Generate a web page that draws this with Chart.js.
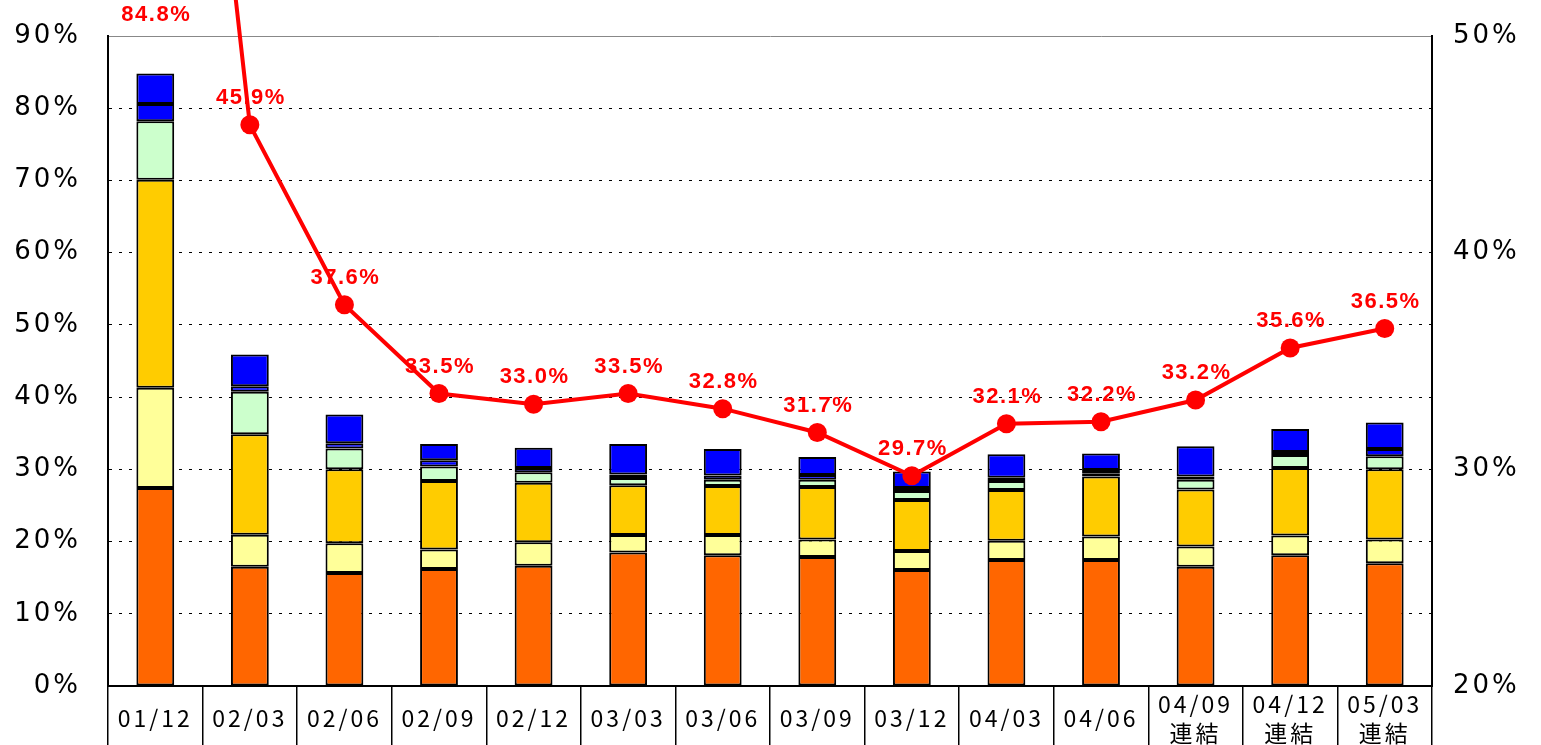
<!DOCTYPE html>
<html>
<head>
<meta charset="utf-8">
<script src="https://cdn.jsdelivr.net/npm/chart.js@4.4.1/dist/chart.umd.min.js"></script>
<style>
html,body{margin:0;padding:0;background:#fff;overflow:hidden}
#wrap{width:1541px;height:745px;position:relative}
</style>
</head>
<body>
<div id="wrap"><canvas id="c" width="1541" height="745"></canvas></div>
<script>
// ---- data ----
const categories = ['01/12','02/03','02/06','02/09','02/12','03/03','03/06','03/09','03/12','04/03','04/06',['04/09','連結'],['04/12','連結'],['05/03','連結']];
const seriesOrange = [27.4,16.5,15.65,16.2,16.65,18.5,18.1,17.85,16.05,17.45,17.45,16.5,18.1,17.0];
const seriesYellow = [13.9,4.45,4.1,2.7,3.25,2.4,2.8,2.45,2.65,2.65,3.25,2.8,2.75,3.3];
const seriesGold   = [28.8,13.9,10.25,9.5,8.25,6.9,6.8,7.25,7.05,7.05,8.3,7.9,9.35,9.7];
const seriesGreen  = [8.1,5.9,2.9,2.0,1.45,1.0,0.85,1.0,1.25,1.25,0.45,1.35,1.8,1.8];
const seriesBlue1  = [2.4,0.75,0.7,0.85,0.6,0.5,0.6,0.65,0.4,0.45,0.45,0.45,0.4,1.0];
const seriesBlue2  = [4.2,4.4,4.0,2.25,2.8,4.2,3.65,2.5,2.3,3.25,2.3,4.2,3.2,3.7];
const totalRatio   = [84.8,45.9,37.6,33.5,33.0,33.5,32.8,31.7,29.7,32.1,32.2,33.2,35.6,36.5];
const leftAxisRange  = [0, 90, 10];
const rightAxisRange = [20, 50, 10];

// ---- plugins ----
const spacingPlugin = {
  id: 'spacing',
  beforeDraw(chart) {
    const sp = { x: '3px', y: '3px', y1: '3px' };
    for (const id in sp) {
      const s = chart.scales[id];
      if (!s || s._spPatched) continue;
      const orig = s.drawLabels;
      s.drawLabels = function (a) {
        const ctx = this.ctx;
        ctx.save();
        ctx.letterSpacing = sp[id];
        orig.call(this, a);
        ctx.restore();
      };
      s._spPatched = true;
    }
  }
};

const LINE_INDEX = 6;
const valueLabels = {
  id: 'valueLabels',
  beforeDatasetDraw(chart, args) {
    if (args.index !== LINE_INDEX) return;
    const meta = chart.getDatasetMeta(args.index);
    const ctx = chart.ctx;
    ctx.save();
    ctx.font = 'bold 22px "Liberation Sans", Arial, sans-serif';
    ctx.fillStyle = '#FF0000';
    ctx.textAlign = 'center';
    ctx.textBaseline = 'middle';
    ctx.letterSpacing = '1.5px';
    meta.data.forEach((pt, i) => {
      const y = Math.max(pt.y - 27, 15);
      ctx.fillText(totalRatio[i].toFixed(1) + '%', pt.x + 1, y);
    });
    ctx.restore();
  }
};

const barStyle = (color) => ({
  type: 'bar',
  backgroundColor: color,
  borderColor: '#000',
  borderWidth: 2,
  borderSkipped: false,
  yAxisID: 'y',
  stack: 's',
  order: 1,
  barPercentage: 0.4,
  categoryPercentage: 1.0
});

new Chart(document.getElementById('c'), {
  data: {
    labels: categories,
    datasets: [
      Object.assign({ data: seriesOrange }, barStyle('#FF6600')),
      Object.assign({ data: seriesYellow }, barStyle('#FFFF99')),
      Object.assign({ data: seriesGold }, barStyle('#FFCC00')),
      Object.assign({ data: seriesGreen }, barStyle('#CCFFCC')),
      Object.assign({ data: seriesBlue1 }, barStyle('#0000FF')),
      Object.assign({ data: seriesBlue2 }, barStyle('#0000FF')),
      {
        type: 'line',
        data: totalRatio,
        yAxisID: 'y1',
        borderColor: '#FF0000',
        backgroundColor: '#FF0000',
        borderWidth: 4,
        pointRadius: 9.5,
        pointHoverRadius: 9.5,
        pointBorderWidth: 0,
        tension: 0,
        clip: false,
        order: 0
      }
    ]
  },
  options: {
    responsive: false,
    animation: false,
    devicePixelRatio: 1,
    layout: { padding: { top: 36, left: 0, right: 0, bottom: 0 } },
    plugins: { legend: { display: false }, tooltip: { enabled: false } },
    scales: {
      x: {
        stacked: true,
        offset: true,
        grid: { offset: true, drawOnChartArea: false, drawTicks: true, tickLength: 59, color: '#000', lineWidth: 1.5 },
        border: { display: true, color: '#000', width: 2 },
        ticks: {
          autoSkip: false, maxRotation: 0, minRotation: 0,
          crossAlign: 'center',
          padding: -41,
          color: '#000',
          font: { family: '"Noto Sans CJK JP", sans-serif', size: 23, lineHeight: 1.27 }
        },
        afterFit(s) { s.height = 59; s.paddingLeft = 0; s.paddingRight = 0; }
      },
      y: {
        stacked: true,
        position: 'left',
        min: leftAxisRange[0], max: leftAxisRange[1],
        grid: {
          color: (c) => (c.tick && c.tick.value === leftAxisRange[1]) ? '#888' : '#000',
          lineWidth: 1, drawTicks: false
        },
        border: {
          display: true, color: '#000', width: 2,
          dash: (c) => (c.tick && c.tick.value === leftAxisRange[1]) ? [] : [3, 7]
        },
        ticks: {
          stepSize: leftAxisRange[2],
          padding: 27,
          color: '#000',
          font: { family: '"DejaVu Sans", sans-serif', size: 26 },
          callback: (v) => v + '%'
        },
        afterFit(s) { s.width = 108; s.paddingTop = 0; s.paddingBottom = 0; }
      },
      y1: {
        position: 'right',
        min: rightAxisRange[0], max: rightAxisRange[1],
        grid: { display: false, drawOnChartArea: false, drawTicks: false },
        border: { display: true, color: '#000', width: 2 },
        ticks: {
          stepSize: rightAxisRange[2],
          padding: 21,
          color: '#000',
          font: { family: '"DejaVu Sans", sans-serif', size: 26 },
          callback: (v) => v + '%'
        },
        afterFit(s) { s.width = 109; s.paddingTop = 0; s.paddingBottom = 0; }
      }
    }
  },
  plugins: [spacingPlugin, valueLabels]
});
</script>
</body>
</html>
